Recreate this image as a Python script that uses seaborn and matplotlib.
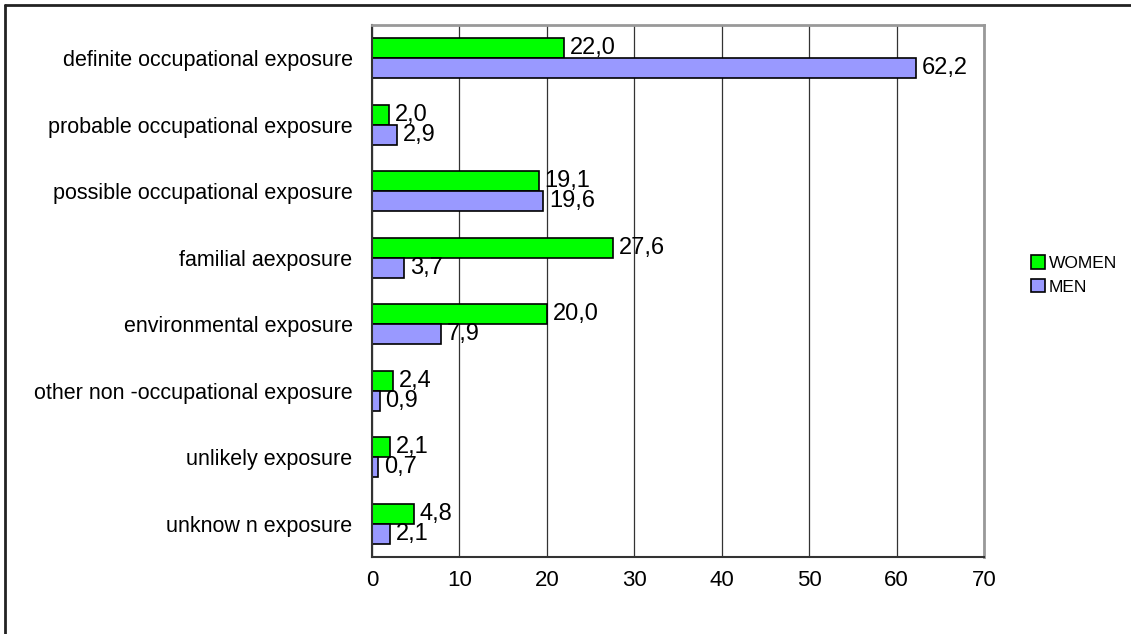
import pandas as pd
import matplotlib.pyplot as plt
import seaborn as sns
from matplotlib.lines import Line2D
from matplotlib.patches import Patch

# Data
categories = [
    'definite occupational exposure',
    'probable occupational exposure',
    'possible occupational exposure',
    'familial aexposure',
    'environmental exposure',
    'other non -occupational exposure',
    'unlikely exposure',
    'unknow n exposure',
]
women = [22.0, 2.0, 19.1, 27.6, 20.0, 2.4, 2.1, 4.8]
men = [62.2, 2.9, 19.6, 3.7, 7.9, 0.9, 0.7, 2.1]
groups = ['WOMEN', 'MEN']
colors = {'WOMEN': '#00FF00', 'MEN': '#9999FF'}

df = pd.DataFrame({
    'category': categories * 2,
    'value': women + men,
    'group': ['WOMEN'] * len(women) + ['MEN'] * len(men),
})

sns.set_style('white')
plt.rcParams['font.family'] = ['Liberation Sans', 'DejaVu Sans']
plt.rcParams['text.color'] = 'black'
plt.rcParams['xtick.color'] = 'black'
plt.rcParams['ytick.color'] = 'black'

fig = plt.figure(figsize=(11.31, 6.34), dpi=100)
ax = fig.add_axes([372 / 1131, 1 - 557 / 634, (984 - 372) / 1131, (557 - 25) / 634])

sns.barplot(data=df, x='value', y='category', hue='group', hue_order=groups,
            palette=colors, saturation=1, orient='h', width=0.6, edgecolor='black',
            linewidth=1.2, ax=ax, legend=False)

# Value labels with comma decimals
for cont in ax.containers:
    ax.bar_label(cont, labels=[f'{v:.1f}'.replace('.', ',') for v in cont.datavalues],
                 padding=4, fontsize=17)

ax.set_xlim(0, 70)
ax.set_ylim(7.5, -0.5)
ax.set_xticks(range(0, 71, 10))
ax.tick_params(axis='x', labelsize=16, length=5, width=1, direction='out', pad=4)
ax.set_yticks(range(len(categories)))
ax.set_yticklabels(categories)
ax.tick_params(axis='y', which='major', length=0, labelsize=15.5, pad=14)
ax.set_yticks([i + 0.5 for i in range(-1, len(categories))], minor=True)
ax.tick_params(axis='y', which='minor', length=5, width=1, direction='out')
ax.set_xlabel('')
ax.set_ylabel('')

ax.grid(axis='x', color='#333333', linewidth=0.9)
ax.set_axisbelow(True)
for side in ['top', 'right']:
    ax.spines[side].set_color('#999999')
    ax.spines[side].set_linewidth(2)
for side in ['left', 'bottom']:
    ax.spines[side].set_color('#333333')
    ax.spines[side].set_linewidth(1.5)

# Legend without frame
handles = [Patch(facecolor=colors[g], edgecolor='black', linewidth=1.2) for g in groups]
fig.legend(handles, groups, loc='center left', bbox_to_anchor=(1015 / 1131, 1 - 275 / 634),
           frameon=False, fontsize=12.5, handlelength=0.8, handleheight=0.8,
           handletextpad=0.25, labelspacing=0.45)

# Outer chart frame (top and left edges visible)
fig.add_artist(Line2D([5 / 1131, 1], [1 - 5 / 634, 1 - 5 / 634], color='#222222', linewidth=2,
                      transform=fig.transFigure))
fig.add_artist(Line2D([5 / 1131, 5 / 1131], [0, 1 - 5 / 634], color='#222222', linewidth=2,
                      transform=fig.transFigure))

fig.savefig('out.png', dpi=100)
